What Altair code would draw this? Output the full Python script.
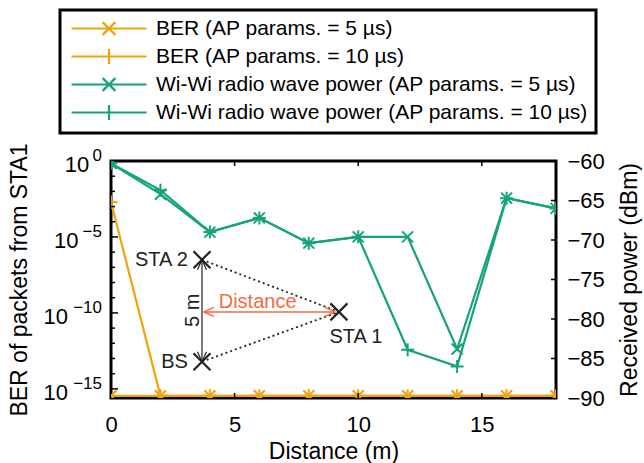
import altair as alt
import pandas as pd

# ---------------- data ----------------
distance = [0, 2, 4, 6, 8, 10, 12, 14, 16, 18]
ber_5us = [3.5e-16, 3.5e-16, 3.5e-16, 3.5e-16, 3.5e-16, 3.5e-16, 3.5e-16, 3.5e-16, 3.5e-16, 3.5e-16]
ber_10us = [2.0e-3, 3.5e-16, 3.5e-16, 3.5e-16, 3.5e-16, 3.5e-16, 3.5e-16, 3.5e-16, 3.5e-16, 3.5e-16]
power_5us = [-60.3, -64.2, -69.0, -67.2, -70.4, -69.6, -69.6, -83.8, -64.7, -66.0]
power_10us = [-60.3, -63.7, -69.0, -67.2, -70.4, -69.6, -83.9, -86.0, -64.7, -66.0]

series_names = [
    "BER (AP params. = 5 µs)",
    "BER (AP params. = 10 µs)",
    "Wi-Wi radio wave power (AP params. = 5 µs)",
    "Wi-Wi radio wave power (AP params. = 10 µs)",
]
ORANGE = "#F2A30C"
GREEN = "#14A37D"
series_colors = [ORANGE, ORANGE, GREEN, GREEN]

ber_major_ticks = [1, 1e-5, 1e-10, 1e-15]
ber_bases = ["10", "10", "10", "10"]
ber_exponents = ["0", "−5", "−10", "−15"]
ber_minor_ticks = [1e-1, 1e-2, 1e-3, 1e-4, 1e-6, 1e-7, 1e-8, 1e-9,
                   1e-11, 1e-12, 1e-13, 1e-14]
power_tick_values = [-90, -85, -80, -75, -70, -65, -60]
power_inner_ticks = [-85, -80, -75, -70, -65]
distance_tick_values = [0, 5, 10, 15]
distance_inner_ticks = [5, 10, 15]

node_names = ["STA 2", "BS", "STA 1"]
node_x = [3.68, 3.68, 9.22]
node_y = [-72.5, -85.4, -79.1]
link_from = [0, 1]
span_x = 3.68
span_y = [-72.5, -85.4]
dist_arrow_x = [3.76, 9.06]
dist_arrow_y = -79.1
side_labels = ["STA 2", "BS"]
side_label_x = [3.11, 3.11]
side_label_y = [-72.5, -85.5]
sta1_label_x, sta1_label_y = 9.91, -82.3
distance_label_x, distance_label_y = 5.93, -77.85
span_label_x, span_label_y = 3.32, -78.9

# ---------------- styling ----------------
FONT = "Liberation Sans"
W, H = 445, 237
TICK_FS = 22
TITLE_FS = 23
LEGEND_FS = 21
X_PATH = "M-1,-1L1,1M-1,1L1,-1"
PLUS_PATH = "M0,-1L0,1M-1,0L1,0"
LEG_X = "M-0.93,0L9.07,0M3.22,-0.85L4.92,0.85M3.22,0.85L4.92,-0.85"
LEG_PLUS = "M-0.93,0L9.07,0M4.07,-1L4.07,1M3.07,0L5.07,0"
ARROW = "M-1,-0.45L0,0L-1,0.45"
INK = "#222222"
ANNOT_ORANGE = "#F26B43"


def xs():
    return alt.Scale(domain=[0, 18], nice=False, zero=False)


def bs():
    return alt.Scale(type="log", domain=[10 ** -15.6, 1], nice=False)


def ps():
    return alt.Scale(domain=[-90, -60], nice=False, zero=False)


def x_axis():
    return alt.Axis(values=distance_tick_values, ticks=False, domain=False, grid=False,
                    labelFontSize=TICK_FS, labelColor="black", labelPadding=16,
                    labelFlush=False, title="Distance (m)", titleFontSize=TITLE_FS,
                    titleFontWeight="normal", titleColor="black", titlePadding=5)


left_axis = alt.Axis(values=ber_major_ticks, labels=False, ticks=False, domain=False,
                     grid=False, title="BER of packets from STA1", titleFontSize=TITLE_FS,
                     titleFontWeight="normal", titleColor="black", titlePadding=80)
right_axis = alt.Axis(orient="right", values=power_tick_values,
                      labelExpr="replace(datum.label, '-', '−')", ticks=False,
                      domain=False, grid=False, labelFontSize=TICK_FS, labelColor="black",
                      labelFlush=False, labelPadding=11,
                      title="Received power (dBm)", titleFontSize=TITLE_FS, titleAngle=270,
                      titleBaseline="top", titleFontWeight="normal", titleColor="black",
                      titlePadding=14)


def X(field):
    return alt.X(field, scale=xs(), axis=x_axis())


def YB(field):
    return alt.Y(field, scale=bs(), axis=None)


def YP(field):
    return alt.Y(field, scale=ps(), axis=None)


# ---------------- BER (left log axis) ----------------
ber_df = pd.DataFrame({
    "distance": distance + distance,
    "value": ber_5us + ber_10us,
    "series": [series_names[0]] * len(distance) + [series_names[1]] * len(distance),
})
ber_base = alt.Chart(ber_df)
ber_lines = ber_base.mark_line(strokeWidth=2.2, clip=True, color=ORANGE).encode(
    x=X("distance:Q"),
    y=alt.Y("value:Q", scale=bs(), axis=left_axis),
    detail="series:N",
)
ber_x_pts = ber_base.transform_filter(alt.datum.series == series_names[0]).mark_point(
    shape=X_PATH, size=121, filled=False, strokeWidth=2, opacity=1, clip=True,
    color=ORANGE).encode(x=X("distance:Q"), y=YB("value:Q"))
ber_plus_pts = ber_base.transform_filter(alt.datum.series == series_names[1]).mark_point(
    shape=PLUS_PATH, size=169, filled=False, strokeWidth=2, opacity=1, clip=True,
    color=ORANGE).encode(x=X("distance:Q"), y=YB("value:Q"))

major_df = pd.DataFrame({"tick": ber_major_ticks, "base": ber_bases, "exp": ber_exponents})
minor_df = pd.DataFrame({"tick": ber_minor_ticks})
left_major = alt.Chart(major_df).mark_rule(color="black", strokeWidth=1.5).encode(
    y=YB("tick:Q"), x=alt.value(0), x2=alt.value(7))
left_minor = alt.Chart(minor_df).mark_rule(color="black", strokeWidth=1.5).encode(
    y=YB("tick:Q"), x=alt.value(0), x2=alt.value(4))
exponents = alt.Chart(major_df).mark_text(
    align="right", baseline="middle", fontSize=17, dy=-5, color="black").encode(
    y=YB("tick:Q"), x=alt.value(-9), text="exp:N")
bases = alt.Chart(major_df).transform_calculate(
    bx="-11 - 10.7 * length(datum.exp)").mark_text(
    align="right", baseline="middle", fontSize=TICK_FS, dy=4, color="black").encode(
    y=YB("tick:Q"), x=alt.X("bx:Q", scale=None, axis=None), text="base:N")

legend_cfg = dict(title=None, orient="none", legendX=-51, legendY=-151,
                  symbolSize=225, symbolStrokeWidth=2.2, symbolOpacity=1,
                  labelFontSize=LEGEND_FS, labelColor="black", labelLimit=0, labelOffset=67,
                  padding=8, rowPadding=4, strokeColor="black")
legend_layer = ber_base.transform_filter("false").mark_point(filled=False, opacity=1).encode(
    x=X("distance:Q"), y=YB("value:Q"),
    color=alt.Color("series:N", scale=alt.Scale(domain=series_names, range=series_colors),
                    legend=alt.Legend(**legend_cfg)),
    shape=alt.Shape("series:N",
                    scale=alt.Scale(domain=series_names,
                                    range=[LEG_X, LEG_PLUS, LEG_X, LEG_PLUS]),
                    legend=alt.Legend(**legend_cfg)),
)

# ---------------- Power (right linear axis) ----------------
pow_df = pd.DataFrame({
    "distance": distance + distance,
    "power": power_5us + power_10us,
    "series": [series_names[2]] * len(distance) + [series_names[3]] * len(distance),
})
pow_base = alt.Chart(pow_df)
pow_lines = pow_base.mark_line(strokeWidth=2.2, clip=True, color=GREEN).encode(
    x=X("distance:Q"),
    y=alt.Y("power:Q", scale=ps(), axis=right_axis),
    detail="series:N",
)
pow_x_pts = pow_base.transform_filter(alt.datum.series == series_names[2]).mark_point(
    shape=X_PATH, size=121, filled=False, strokeWidth=2, opacity=1, clip=True,
    color=GREEN).encode(x=X("distance:Q"), y=YP("power:Q"))
pow_plus_pts = pow_base.transform_filter(alt.datum.series == series_names[3]).mark_point(
    shape=PLUS_PATH, size=169, filled=False, strokeWidth=2, opacity=1, clip=True,
    color=GREEN).encode(x=X("distance:Q"), y=YP("power:Q"))

right_ticks = alt.Chart(pd.DataFrame({"tick": power_inner_ticks})).mark_rule(
    color="black", strokeWidth=1.5).encode(
    y=YP("tick:Q"), x=alt.value(W - 5), x2=alt.value(W))
dtick_df = pd.DataFrame({"d": distance_inner_ticks})
top_ticks = alt.Chart(dtick_df).mark_rule(color="black", strokeWidth=1.5).encode(
    x=X("d:Q"), y=alt.value(0), y2=alt.value(5))
bottom_ticks = alt.Chart(dtick_df).mark_rule(color="black", strokeWidth=1.5).encode(
    x=X("d:Q"), y=alt.value(H - 5), y2=alt.value(H))

# ---------------- inset diagram ----------------
links_df = pd.DataFrame({
    "x1": [node_x[i] for i in link_from], "y1": [node_y[i] for i in link_from],
    "x2": [node_x[2]] * len(link_from), "y2": [node_y[2]] * len(link_from),
})
dotted = alt.Chart(links_df).mark_rule(strokeDash=[2, 3], strokeWidth=1.8, color=INK).encode(
    x=X("x1:Q"), y=YP("y1:Q"), x2="x2:Q", y2="y2:Q")
span_df = pd.DataFrame({"x": [span_x], "y1": [span_y[0]], "y2": [span_y[1]]})
span_line = alt.Chart(span_df).mark_rule(strokeWidth=1.2, color=INK).encode(
    x=X("x:Q"), y=YP("y1:Q"), y2="y2:Q")
dist_df = pd.DataFrame({"x1": [dist_arrow_x[0]], "x2": [dist_arrow_x[1]], "y": [dist_arrow_y]})
dist_line = alt.Chart(dist_df).mark_rule(strokeWidth=1.5, color=ANNOT_ORANGE).encode(
    x=X("x1:Q"), x2="x2:Q", y=YP("y:Q"))
span_heads_df = pd.DataFrame({"x": [span_x, span_x], "y": span_y, "angle": [270, 90]})
span_heads = alt.Chart(span_heads_df).mark_point(
    shape=ARROW, size=400, filled=False, strokeWidth=1.2, color=INK, opacity=1).encode(
    x=X("x:Q"), y=YP("y:Q"), angle=alt.Angle("angle:Q", scale=None))
dist_heads_df = pd.DataFrame({"x": dist_arrow_x, "y": [dist_arrow_y, dist_arrow_y],
                              "angle": [180, 0]})
dist_heads = alt.Chart(dist_heads_df).mark_point(
    shape=ARROW, size=400, filled=False, strokeWidth=1.5, color=ANNOT_ORANGE, opacity=1).encode(
    x=X("x:Q"), y=YP("y:Q"), angle=alt.Angle("angle:Q", scale=None))
nodes_df = pd.DataFrame({"node": node_names, "x": node_x, "y": node_y})
nodes = alt.Chart(nodes_df).mark_point(
    shape=X_PATH, size=289, filled=False, strokeWidth=2.2, color=INK, opacity=1).encode(
    x=X("x:Q"), y=YP("y:Q"))
side_df = pd.DataFrame({"label": side_labels, "x": side_label_x, "y": side_label_y})
side_text = alt.Chart(side_df).mark_text(
    align="right", baseline="middle", fontSize=20, color=INK).encode(
    x=X("x:Q"), y=YP("y:Q"), text="label:N")
sta1_text = alt.Chart(pd.DataFrame({"label": [node_names[2]], "x": [sta1_label_x],
                                    "y": [sta1_label_y]})).mark_text(
    align="center", baseline="middle", fontSize=20, color=INK).encode(
    x=X("x:Q"), y=YP("y:Q"), text="label:N")
dist_text = alt.Chart(pd.DataFrame({"label": ["Distance"], "x": [distance_label_x],
                                    "y": [distance_label_y]})).mark_text(
    align="center", baseline="middle", fontSize=20, color=ANNOT_ORANGE).encode(
    x=X("x:Q"), y=YP("y:Q"), text="label:N")
span_text = alt.Chart(pd.DataFrame({"label": ["5 m"], "x": [span_label_x],
                                    "y": [span_label_y]})).mark_text(
    align="center", baseline="middle", fontSize=20, angle=270, color=INK).encode(
    x=X("x:Q"), y=YP("y:Q"), text="label:N")

chart = (
    alt.layer(ber_lines, ber_x_pts, ber_plus_pts, left_major, left_minor, exponents, bases,
              pow_lines, pow_x_pts, pow_plus_pts, right_ticks, top_ticks, bottom_ticks,
              dotted, span_line, dist_line, span_heads, dist_heads, nodes,
              side_text, sta1_text, dist_text, span_text, legend_layer)
    .resolve_scale(y="independent")
    .properties(width=W, height=H,
                padding={"left": 111, "top": 161, "right": 88, "bottom": 65},
                autosize=alt.AutoSizeParams(type="none"))
    .configure(font=FONT)
    .configure_view(stroke="black", strokeWidth=3)
    .configure_legend(strokeWidth=3)
)

chart.save("out.html", embed_options={"renderer": "svg", "actions": False})
